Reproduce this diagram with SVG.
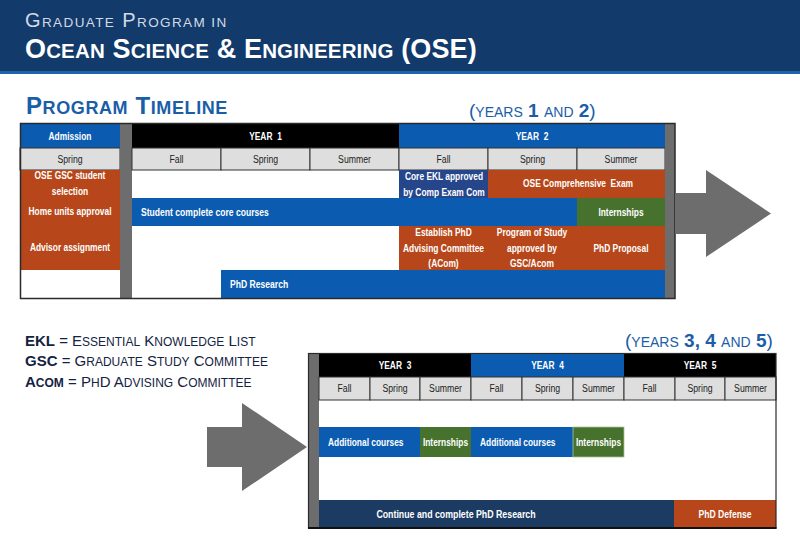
<svg xmlns="http://www.w3.org/2000/svg" width="800" height="544" viewBox="0 0 800 544">
<style>
.c{font-family:"Liberation Sans",Arial,sans-serif;font-size:10px;font-weight:bold;fill:#fff}
.m{text-anchor:middle}
.s{font-family:"Liberation Sans",Arial,sans-serif;font-size:10px;fill:#222;text-anchor:middle}
.sea{fill:#dedede;stroke:#333;stroke-width:1}
.blue{fill:#0b5cb1}
.org{fill:#b7471a}
.grn{fill:#47722d}
.gry{fill:#6d6d6d}
.hd{font-family:"Liberation Sans",Arial,sans-serif}
.ttl{font-family:"Liberation Sans",Arial,sans-serif;fill:#1a5ea8}
.lg{font-family:"Liberation Sans",Arial,sans-serif;fill:#14233f}
</style>
<rect width="800" height="544" fill="#fff"/>
<g id="header">
<rect x="0" y="0" width="800" height="71" fill="#123a6b"/>
<rect x="0" y="71" width="800" height="3" fill="#1d64ad"/>
<text x="25" y="26.7" class="hd" fill="#d3dae5" font-size="20" letter-spacing="1.4">G<tspan font-size="13.5">RADUATE</tspan> P<tspan font-size="13.5">ROGRAM IN</tspan></text>
<text x="25" y="58" class="hd" fill="#fff" font-size="27" font-weight="bold" letter-spacing="0.15">O<tspan font-size="20.5">CEAN</tspan> S<tspan font-size="20.5">CIENCE</tspan> &amp; E<tspan font-size="20.5">NGINEERING</tspan> (OSE)</text>
</g>
<g id="titles">
<text x="26" y="114" class="ttl" font-size="24" font-weight="bold" letter-spacing="0.6">P<tspan font-size="18">ROGRAM</tspan> T<tspan font-size="18">IMELINE</tspan></text>
<text x="469" y="117" class="ttl" font-size="19">(<tspan font-size="14">YEARS</tspan> <tspan font-weight="bold">1</tspan> <tspan font-size="14">AND</tspan> <tspan font-weight="bold">2</tspan>)</text>
<text x="625" y="347" class="ttl" font-size="19">(<tspan font-size="14">YEARS</tspan> <tspan font-weight="bold">3, 4</tspan> <tspan font-size="14">AND</tspan> <tspan font-weight="bold">5</tspan>)</text>
</g>
<g id="legend">
<text x="25" y="346" class="lg" font-size="15"><tspan font-weight="bold">EKL</tspan> = E<tspan font-size="12">SSENTIAL</tspan> K<tspan font-size="12">NOWLEDGE</tspan> L<tspan font-size="12">IST</tspan></text>
<text x="25" y="366" class="lg" font-size="15"><tspan font-weight="bold">GSC</tspan> = G<tspan font-size="12">RADUATE</tspan> S<tspan font-size="12">TUDY</tspan> C<tspan font-size="12">OMMITTEE</tspan></text>
<text x="25" y="387" class="lg" font-size="15"><tspan font-weight="bold">A<tspan font-size="12">COM</tspan></tspan> = P<tspan font-size="12">H</tspan>D A<tspan font-size="12">DVISING</tspan> C<tspan font-size="12">OMMITTEE</tspan></text>
</g>
<g id="timeline-1-2">
<rect x="20" y="124" width="655" height="174" fill="#fff"/>
<g id="admission"><rect x="20" y="124" width="100" height="24" class="blue"/><text transform="translate(70 139.5) scale(.84 1)" class="c m">Admission</text></g>
<g id="spring-0"><rect x="20" y="148" width="100" height="22" class="sea"/><text transform="translate(70 162.5) scale(.87 1)" class="s">Spring</text></g>
<rect x="120" y="124" width="12" height="174" class="gry"/>
<g id="year1"><rect x="132" y="124" width="267" height="24" fill="#000"/><text transform="translate(265.5 139.5) scale(.84 1)" class="c m" xml:space="preserve">YEAR  1</text></g>
<g id="y1-seasons">
<rect x="132" y="148" width="89" height="22" class="sea"/><text transform="translate(176.5 162.5) scale(.87 1)" class="s">Fall</text>
<rect x="221" y="148" width="89" height="22" class="sea"/><text transform="translate(265.5 162.5) scale(.87 1)" class="s">Spring</text>
<rect x="310" y="148" width="89" height="22" class="sea"/><text transform="translate(354.5 162.5) scale(.87 1)" class="s">Summer</text>
</g>
<g id="year2"><rect x="399" y="124" width="266" height="24" class="blue"/><text transform="translate(532 139.5) scale(.84 1)" class="c m" xml:space="preserve">YEAR  2</text></g>
<g id="y2-seasons">
<rect x="399" y="148" width="89" height="22" class="sea"/><text transform="translate(443.5 162.5) scale(.87 1)" class="s">Fall</text>
<rect x="488" y="148" width="89" height="22" class="sea"/><text transform="translate(532.5 162.5) scale(.87 1)" class="s">Spring</text>
<rect x="577" y="148" width="88" height="22" class="sea"/><text transform="translate(621 162.5) scale(.87 1)" class="s">Summer</text>
</g>
<rect x="665" y="124" width="10" height="174" class="gry"/>
<g id="admission-steps"><rect x="20" y="170" width="100" height="100" class="org"/>
<text transform="translate(70 179) scale(.84 1)" class="c m">OSE GSC student</text>
<text transform="translate(70 195) scale(.84 1)" class="c m">selection</text>
<text transform="translate(70 215) scale(.84 1)" class="c m">Home units approval</text>
<text transform="translate(70 251) scale(.84 1)" class="c m">Advisor assignment</text></g>
<g id="core-courses"><rect x="132" y="198" width="445" height="28" class="blue"/><text transform="translate(141 215.5) scale(.86 1)" class="c">Student complete core courses</text></g>
<g id="phd-research"><rect x="221" y="270" width="444" height="28" class="blue"/><text transform="translate(230 287.5) scale(.86 1)" class="c">PhD Research</text></g>
<g id="core-ekl"><rect x="399" y="170" width="89" height="28" fill="#26468c"/><text transform="translate(444 179.5) scale(.84 1)" class="c m">Core EKL approved</text><text transform="translate(444 195.5) scale(.84 1)" class="c m">by Comp Exam Com</text></g>
<g id="comp-exam"><rect x="488" y="170" width="177" height="28" class="org"/><text transform="translate(578 186.5) scale(.84 1)" class="c m" xml:space="preserve">OSE Comprehensive  Exam</text></g>
<g id="internships-y2"><rect x="577" y="198" width="88" height="28" class="grn"/><text transform="translate(621 215.5) scale(.84 1)" class="c m">Internships</text></g>
<g id="acom"><rect x="399" y="226" width="266" height="44" class="org"/>
<text transform="translate(443.5 236) scale(.84 1)" class="c m">Establish PhD</text>
<text transform="translate(443.5 251.5) scale(.84 1)" class="c m">Advising Committee</text>
<text transform="translate(443.5 267) scale(.84 1)" class="c m">(ACom)</text>
<text transform="translate(532 236) scale(.84 1)" class="c m">Program of Study</text>
<text transform="translate(532 251.5) scale(.84 1)" class="c m">approved by</text>
<text transform="translate(532 267) scale(.84 1)" class="c m">GSC/Acom</text>
<text transform="translate(621 251.5) scale(.84 1)" class="c m">PhD Proposal</text></g>
<rect x="20.5" y="123.5" width="654.5" height="175" fill="none" stroke="#2a2a2a" stroke-width="1.5"/>
</g>
<g id="timeline-3-5">
<rect x="308" y="354" width="468" height="174" fill="#fff"/>
<rect x="308" y="354" width="11" height="174" class="gry"/>
<g id="year3"><rect x="319" y="354" width="152" height="23" fill="#000"/><text transform="translate(395 369) scale(.84 1)" class="c m" xml:space="preserve">YEAR  3</text></g>
<g id="year4"><rect x="471" y="354" width="153" height="23" class="blue"/><text transform="translate(547.5 369) scale(.84 1)" class="c m" xml:space="preserve">YEAR  4</text></g>
<g id="year5"><rect x="624" y="354" width="152" height="23" fill="#000"/><text transform="translate(700 369) scale(.84 1)" class="c m" xml:space="preserve">YEAR  5</text></g>
<g id="y345-seasons">
<rect x="319" y="377" width="51" height="23" class="sea"/><text transform="translate(344.5 392) scale(.87 1)" class="s">Fall</text>
<rect x="370" y="377" width="50" height="23" class="sea"/><text transform="translate(395 392) scale(.87 1)" class="s">Spring</text>
<rect x="420" y="377" width="51" height="23" class="sea"/><text transform="translate(445.5 392) scale(.87 1)" class="s">Summer</text>
<rect x="471" y="377" width="51" height="23" class="sea"/><text transform="translate(496.5 392) scale(.87 1)" class="s">Fall</text>
<rect x="522" y="377" width="51" height="23" class="sea"/><text transform="translate(547.5 392) scale(.87 1)" class="s">Spring</text>
<rect x="573" y="377" width="51" height="23" class="sea"/><text transform="translate(598.5 392) scale(.87 1)" class="s">Summer</text>
<rect x="624" y="377" width="51" height="23" class="sea"/><text transform="translate(649.5 392) scale(.87 1)" class="s">Fall</text>
<rect x="675" y="377" width="50" height="23" class="sea"/><text transform="translate(700 392) scale(.87 1)" class="s">Spring</text>
<rect x="725" y="377" width="51" height="23" class="sea"/><text transform="translate(750.5 392) scale(.87 1)" class="s">Summer</text>
</g>
<g id="add-courses-y3"><rect x="319" y="427" width="101" height="30" class="blue"/><text transform="translate(328 445.5) scale(.84 1)" class="c">Additional courses</text></g>
<g id="internships-y3"><rect x="420" y="427" width="51" height="30" class="grn"/><text transform="translate(445.5 445.5) scale(.84 1)" class="c m">Internships</text></g>
<g id="add-courses-y4"><rect x="471" y="427" width="102" height="30" class="blue"/><text transform="translate(480 445.5) scale(.84 1)" class="c">Additional courses</text></g>
<g id="internships-y4"><rect x="573" y="427" width="51" height="30" class="grn" stroke="#a9c49a" stroke-width="0.8"/><text transform="translate(598.5 445.5) scale(.84 1)" class="c m">Internships</text></g>
<g id="continue-research"><rect x="319" y="500" width="355" height="28" fill="#1c3b62"/><text transform="translate(456 517.5) scale(.88 1)" class="c m">Continue and complete PhD Research</text></g>
<g id="phd-defense"><rect x="674" y="500" width="102" height="28" class="org"/><text transform="translate(725 517.5) scale(.86 1)" class="c m">PhD Defense</text></g>
<rect x="308.5" y="353.5" width="467.5" height="174.5" fill="none" stroke="#2a2a2a" stroke-width="1.2"/>
<line x1="308" y1="528" x2="776.5" y2="528" stroke="#111" stroke-width="2"/>
</g>
<g id="connectors">
<polygon class="gry" points="675,193 706,193 706,170 771,213.5 706,257 706,234 675,234"/>
<polygon class="gry" points="207,427 242,427 242,403 307,447 242,491 242,467 207,467"/>
</g>
</svg>
